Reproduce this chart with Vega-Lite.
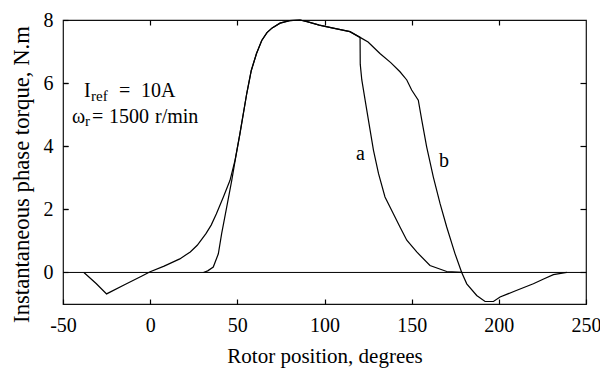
{
  "$schema": "https://vega.github.io/schema/vega-lite/v6.json",
  "width": 523,
  "height": 284,
  "autosize": {"type": "none"},
  "padding": {"left": 63, "top": 20, "right": 14, "bottom": 68},
  "background": "white",
  "config": {
    "font": "Liberation Serif",
    "view": {"stroke": "#111", "strokeWidth": 1.2},
    "axis": {
      "grid": false,
      "domain": false,
      "ticks": true,
      "tickColor": "black",
      "tickWidth": 1.2,
      "tickSize": -5,
      "labelColor": "black",
      "titleColor": "black",
      "labelFont": "Liberation Serif",
      "titleFont": "Liberation Serif",
      "labelFontSize": 20,
      "titleFontSize": 21,
      "titleFontWeight": "normal"
    }
  },
  "datasets": {
    "curves": [
      {"s": "b", "x": -38, "y": 0},
      {"s": "b", "x": -31, "y": -0.35},
      {"s": "b", "x": -25, "y": -0.68},
      {"s": "b", "x": -15, "y": -0.4},
      {"s": "b", "x": -5, "y": -0.12},
      {"s": "b", "x": 0, "y": 0.02},
      {"s": "b", "x": 8, "y": 0.2},
      {"s": "b", "x": 17, "y": 0.43},
      {"s": "b", "x": 23, "y": 0.65},
      {"s": "b", "x": 27, "y": 0.86},
      {"s": "b", "x": 32, "y": 1.23},
      {"s": "b", "x": 35, "y": 1.5},
      {"s": "b", "x": 38, "y": 1.86},
      {"s": "b", "x": 42, "y": 2.39},
      {"s": "b", "x": 45.8, "y": 2.92},
      {"s": "b", "x": 48.7, "y": 3.56},
      {"s": "b", "x": 51.5, "y": 4.4},
      {"s": "b", "x": 55.4, "y": 5.67},
      {"s": "b", "x": 58, "y": 6.4},
      {"s": "b", "x": 61, "y": 6.94},
      {"s": "b", "x": 64, "y": 7.35},
      {"s": "b", "x": 67, "y": 7.6},
      {"s": "b", "x": 70, "y": 7.75},
      {"s": "b", "x": 74.5, "y": 7.9},
      {"s": "b", "x": 80, "y": 7.98},
      {"s": "b", "x": 86, "y": 8.0},
      {"s": "b", "x": 90, "y": 7.95},
      {"s": "b", "x": 97, "y": 7.84},
      {"s": "b", "x": 105, "y": 7.74},
      {"s": "b", "x": 114.6, "y": 7.63},
      {"s": "b", "x": 120.4, "y": 7.45},
      {"s": "b", "x": 125, "y": 7.3},
      {"s": "b", "x": 131.8, "y": 6.94},
      {"s": "b", "x": 138, "y": 6.65},
      {"s": "b", "x": 143.3, "y": 6.36},
      {"s": "b", "x": 147.2, "y": 6.1},
      {"s": "b", "x": 150, "y": 5.78},
      {"s": "b", "x": 153.8, "y": 5.46},
      {"s": "b", "x": 155.8, "y": 4.83},
      {"s": "b", "x": 158.6, "y": 3.98},
      {"s": "b", "x": 162.4, "y": 3.03},
      {"s": "b", "x": 166.3, "y": 2.18},
      {"s": "b", "x": 170.1, "y": 1.44},
      {"s": "b", "x": 174.9, "y": 0.59},
      {"s": "b", "x": 178.7, "y": 0},
      {"s": "b", "x": 181.6, "y": -0.36},
      {"s": "b", "x": 187.3, "y": -0.73},
      {"s": "b", "x": 192.1, "y": -0.92},
      {"s": "b", "x": 196.9, "y": -0.92},
      {"s": "b", "x": 200.7, "y": -0.78},
      {"s": "b", "x": 210, "y": -0.57},
      {"s": "b", "x": 219.8, "y": -0.36},
      {"s": "b", "x": 226, "y": -0.2},
      {"s": "b", "x": 231.3, "y": -0.07},
      {"s": "b", "x": 239, "y": 0},
      {"s": "a", "x": 30.5, "y": 0},
      {"s": "a", "x": 33, "y": 0.05},
      {"s": "a", "x": 36.2, "y": 0.17},
      {"s": "a", "x": 39.1, "y": 0.59},
      {"s": "a", "x": 41, "y": 1.23},
      {"s": "a", "x": 43.9, "y": 2.07},
      {"s": "a", "x": 46.8, "y": 2.92},
      {"s": "a", "x": 48.9, "y": 3.6},
      {"s": "a", "x": 51.5, "y": 4.4},
      {"s": "a", "x": 55.4, "y": 5.67},
      {"s": "a", "x": 58, "y": 6.4},
      {"s": "a", "x": 61, "y": 6.94},
      {"s": "a", "x": 64, "y": 7.35},
      {"s": "a", "x": 67, "y": 7.6},
      {"s": "a", "x": 70, "y": 7.75},
      {"s": "a", "x": 74.5, "y": 7.9},
      {"s": "a", "x": 80, "y": 7.98},
      {"s": "a", "x": 86, "y": 8.0},
      {"s": "a", "x": 90, "y": 7.95},
      {"s": "a", "x": 97, "y": 7.84},
      {"s": "a", "x": 105, "y": 7.74},
      {"s": "a", "x": 114.6, "y": 7.63},
      {"s": "a", "x": 120.4, "y": 7.45},
      {"s": "a", "x": 120.5, "y": 6.6},
      {"s": "a", "x": 121.4, "y": 6.1},
      {"s": "a", "x": 123.3, "y": 5.46},
      {"s": "a", "x": 125.2, "y": 4.83},
      {"s": "a", "x": 128.1, "y": 3.87},
      {"s": "a", "x": 131, "y": 3.13},
      {"s": "a", "x": 134.7, "y": 2.39},
      {"s": "a", "x": 139.5, "y": 1.86},
      {"s": "a", "x": 143.3, "y": 1.44},
      {"s": "a", "x": 147.2, "y": 1.02},
      {"s": "a", "x": 152.9, "y": 0.65},
      {"s": "a", "x": 160.5, "y": 0.22},
      {"s": "a", "x": 170.1, "y": 0.03},
      {"s": "a", "x": 179, "y": 0}
    ],
    "labels": [
      {"x": -37.95, "y": 5.556, "t": "I"},
      {"x": -17.88, "y": 5.556, "t": "="},
      {"x": -5.26, "y": 5.556, "t": "10A"},
      {"x": -44.84, "y": 4.73, "t": "ω"},
      {"x": -33.36, "y": 4.73, "t": "="},
      {"x": -23.61, "y": 4.73, "t": "1500"},
      {"x": 2.77, "y": 4.73, "t": "r/min"},
      {"x": 118.07, "y": 3.556, "t": "a"},
      {"x": 165.68, "y": 3.333, "t": "b"}
    ],
    "subs": [
      {"x": -33.94, "y": 5.429, "t": "ref"},
      {"x": -37.38, "y": 4.635, "t": "r"}
    ]
  },
  "layer": [
    {
      "data": {"values": [{"y": 0}]},
      "mark": {"type": "rule", "color": "black", "strokeWidth": 1},
      "encoding": {
        "y": {
          "field": "y", "type": "quantitative",
          "scale": {"domain": [-1, 8], "nice": false},
          "axis": {"orient": "right", "labels": false, "title": null, "values": [0, 2, 4, 6], "ticks": true, "tickSize": -6}
        }
      }
    },
    {
      "data": {"name": "curves"},
      "mark": {"type": "line", "color": "black", "strokeWidth": 1.2},
      "encoding": {
        "x": {
          "field": "x", "type": "quantitative",
          "scale": {"domain": [-50, 250], "nice": false},
          "axis": {"orient": "bottom", "ticks": true, "values": [-50, 0, 50, 100, 150, 200, 250], "labelExpr": "replace(datum.label, '−', '-')", "title": "Rotor position, degrees", "labelPadding": 16, "titlePadding": 10, "labelFlush": false}
        },
        "y": {
          "field": "y", "type": "quantitative",
          "scale": {"domain": [-1, 8], "nice": false},
          "axis": {"orient": "left", "ticks": true, "values": [0, 2, 4, 6, 8], "title": "Instantaneous phase torque, N.m", "labelPadding": 15, "titlePadding": 10, "titleFontSize": 22.7, "titleY": 154, "labelFlush": false}
        },
        "detail": {"field": "s", "type": "nominal"}
      }
    },
    {
      "data": {"name": "labels"},
      "mark": {"type": "text", "align": "left", "baseline": "alphabetic", "fontSize": 20, "font": "Liberation Serif", "color": "black"},
      "encoding": {
        "x": {
          "field": "x", "type": "quantitative",
          "scale": {"domain": [-50, 250], "nice": false},
          "axis": {"orient": "top", "labels": false, "title": null, "values": [0, 50, 100, 150, 200], "ticks": true, "tickSize": -5}
        },
        "y": {
          "field": "y", "type": "quantitative",
          "scale": {"domain": [-1, 8], "nice": false},
          "axis": {"orient": "left", "labels": false, "title": null, "values": [2, 4, 6], "ticks": true, "tickSize": -5}
        },
        "text": {"field": "t", "type": "nominal"}
      }
    },
    {
      "data": {"name": "subs"},
      "mark": {"type": "text", "align": "left", "baseline": "alphabetic", "fontSize": 15, "font": "Liberation Serif", "color": "black"},
      "encoding": {
        "x": {"field": "x", "type": "quantitative", "scale": {"domain": [-50, 250], "nice": false}, "axis": null},
        "y": {"field": "y", "type": "quantitative", "scale": {"domain": [-1, 8], "nice": false}, "axis": null},
        "text": {"field": "t", "type": "nominal"}
      }
    }
  ],
  "resolve": {"axis": {"x": "independent", "y": "independent"}}
}
